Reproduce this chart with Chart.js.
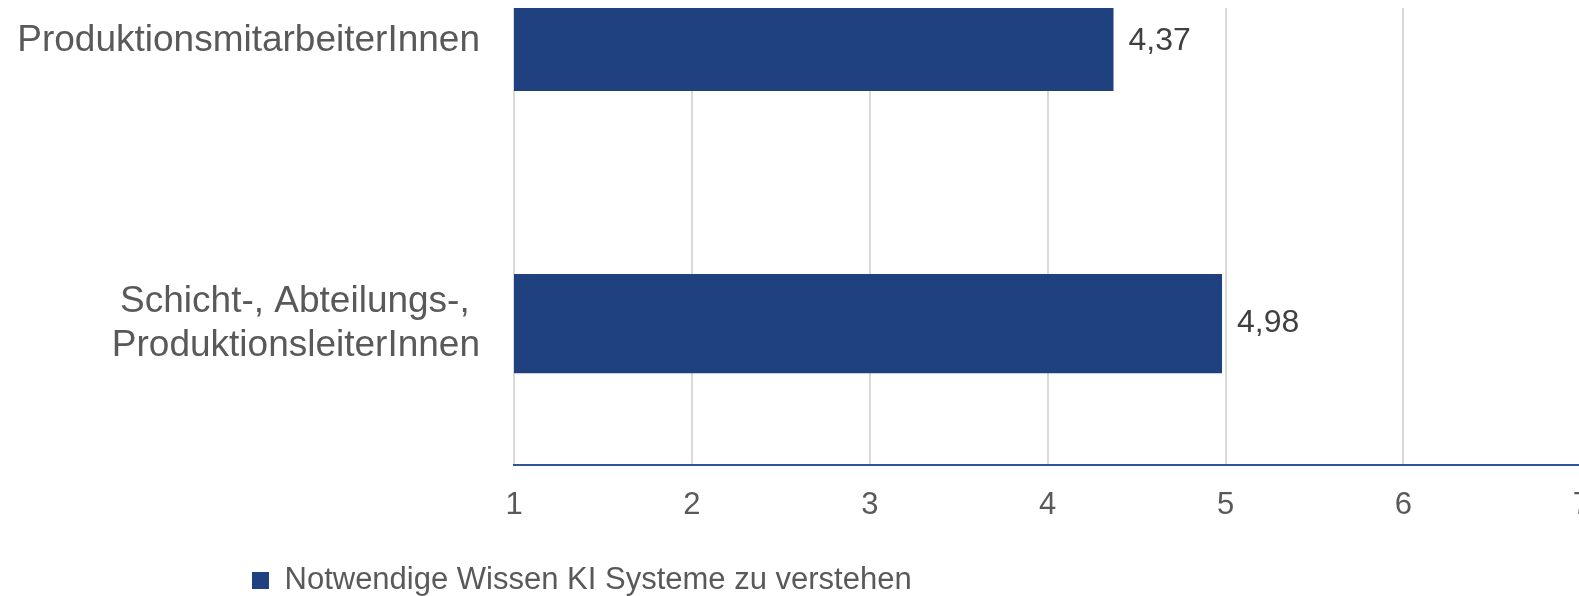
<!DOCTYPE html>
<html>
<head>
<meta charset="utf-8">
<script src="https://cdn.jsdelivr.net/npm/chart.js@4"></script>
<style>
  html, body { margin: 0; padding: 0; overflow: hidden; background: #fff; }
  /* the plot runs past the top and right edges, so the canvas sits inside a cropping frame */
  #frame { position: absolute; left: 0; top: 8px; width: 1579px; height: 588px; overflow: hidden; }
  #wrap { position: absolute; left: 0; top: -158px; width: 1612px; height: 764px; }
</style>
</head>
<body>
<div id="frame"><div id="wrap"><canvas id="chart"></canvas></div></div>
<script>
const categories = ['ProduktionsmitarbeiterInnen', ['Schicht-, Abteilungs-, ', 'ProduktionsleiterInnen']];
const values = [4.37, 4.98];
const seriesName = 'Notwendige Wissen KI Systeme zu verstehen';
const axisMin = 1;
const axisMax = 7;

const FONT = '"Liberation Sans", Arial, sans-serif';
const BLUE = '#1F4180';
const LEGEND_LEFT = 242;

// value labels to the right of each bar, German decimal comma
const valueLabels = {
    id: 'valueLabels',
    afterDatasetsDraw(chart) {
        const ctx = chart.ctx;
        const meta = chart.getDatasetMeta(0);
        ctx.save();
        ctx.font = '32px ' + FONT;
        ctx.fillStyle = '#404040';
        ctx.textBaseline = 'middle';
        meta.data.forEach((bar, i) => {
            ctx.fillText(values[i].toFixed(2).replace('.', ','), bar.x + 15, bar.y);
        });
        ctx.restore();
    }
};

// legend sits under the labels column, not at the canvas edge
const legendShift = {
    id: 'legendShift',
    afterLayout(chart) {
        chart.legend.left = LEGEND_LEFT;
    }
};

const chart = new Chart(document.getElementById('chart'), {
    type: 'bar',
    plugins: [valueLabels, legendShift],
    data: {
        labels: categories,
        datasets: [{
            label: seriesName,
            data: values,
            backgroundColor: BLUE,
            borderWidth: 0,
            categoryPercentage: 1,
            barPercentage: 0.352
        }]
    },
    options: {
        indexAxis: 'y',
        responsive: true,
        maintainAspectRatio: false,
        animation: false,
        layout: { padding: { left: 0, right: 30, top: 50, bottom: 8 } },
        scales: {
            x: {
                min: axisMin,
                max: axisMax,
                grid: { color: '#D9D9D9', lineWidth: 2, drawTicks: false },
                border: { display: true, color: '#2F5597', width: 2 },
                afterFit(scale) { scale.height += 9; },
                ticks: {
                    stepSize: 1,
                    padding: 22,
                    color: '#595959',
                    font: { family: FONT, size: 31 }
                }
            },
            y: {
                grid: { display: false, drawTicks: true, tickLength: 34 },
                border: { display: false },
                afterFit(scale) { scale.width = 514; },
                ticks: {
                    padding: 0,
                    color: '#595959',
                    font: { family: FONT, size: 37, lineHeight: 1.2 }
                }
            }
        },
        plugins: {
            legend: {
                position: 'bottom',
                align: 'start',
                labels: {
                    boxWidth: 17,
                    boxHeight: 17,
                    padding: 10,
                    color: '#595959',
                    font: { family: FONT, size: 31 }
                }
            },
            tooltip: { enabled: false }
        }
    }
});
</script>
</body>
</html>
